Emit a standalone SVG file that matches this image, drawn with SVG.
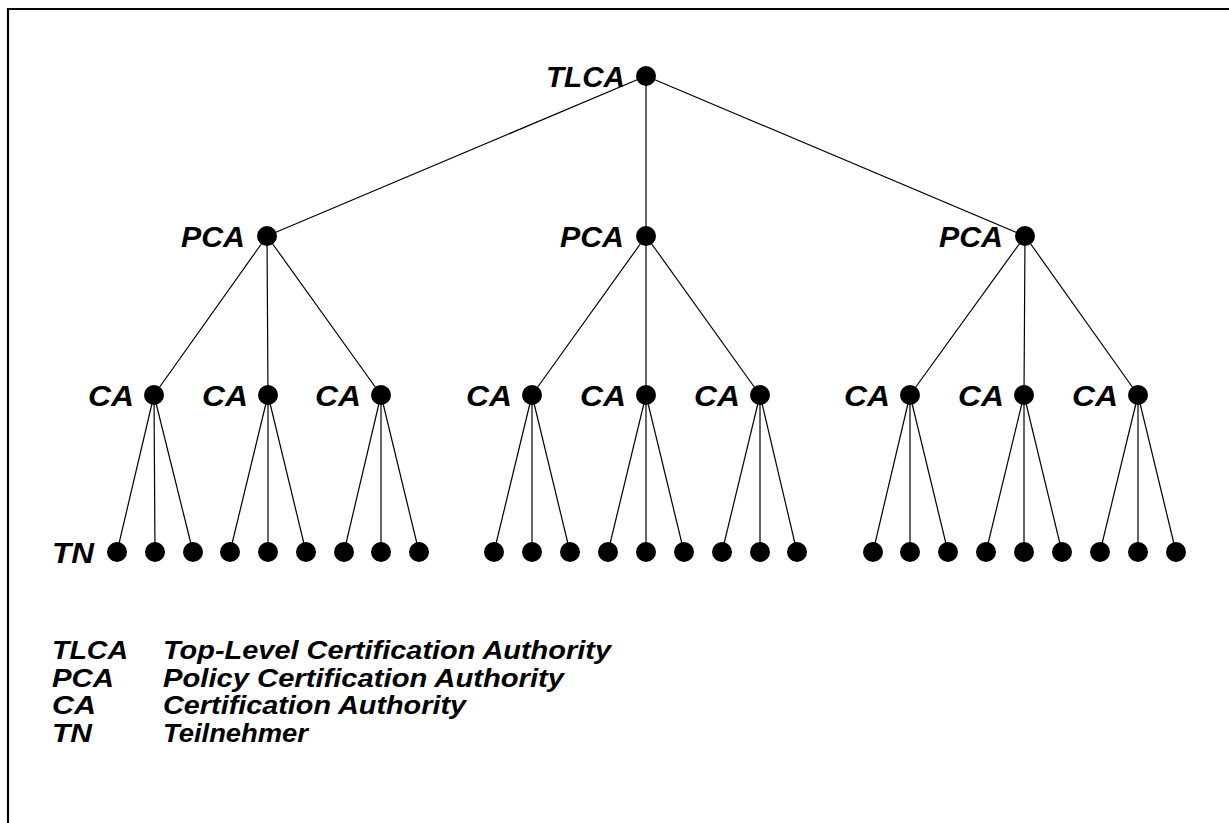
<svg xmlns="http://www.w3.org/2000/svg" width="1229" height="823" viewBox="0 0 1229 823">
<style>
.lbl{font-family:"Liberation Sans",Arial,sans-serif;font-weight:bold;font-style:italic;font-size:29px;fill:#000}
.leg{font-family:"Liberation Sans",Arial,sans-serif;font-weight:bold;font-style:italic;font-size:25px;fill:#000}
.dot{fill:#000}
.edge{stroke:#000;stroke-width:1.2;fill:none}
</style>
<rect x="0" y="0" width="1229" height="823" fill="#fff"/>
<path d="M8 823 V9 H1229" stroke="#000" stroke-width="2.2" fill="none"/>
<g id="connectors" class="edge">
<line x1="646" y1="76" x2="267" y2="236"/>
<line x1="646" y1="76" x2="646" y2="236"/>
<line x1="646" y1="76" x2="1025" y2="236"/>
<line x1="267" y1="236" x2="154" y2="395"/>
<line x1="267" y1="236" x2="268" y2="395"/>
<line x1="267" y1="236" x2="381" y2="395"/>
<line x1="646" y1="236" x2="532" y2="395"/>
<line x1="646" y1="236" x2="646" y2="395"/>
<line x1="646" y1="236" x2="760" y2="395"/>
<line x1="1025" y1="236" x2="910" y2="395"/>
<line x1="1025" y1="236" x2="1024" y2="395"/>
<line x1="1025" y1="236" x2="1138" y2="395"/>
<line x1="154" y1="395" x2="117" y2="552"/><line x1="154" y1="395" x2="155" y2="552"/><line x1="154" y1="395" x2="193" y2="552"/>
<line x1="268" y1="395" x2="230" y2="552"/><line x1="268" y1="395" x2="268" y2="552"/><line x1="268" y1="395" x2="306" y2="552"/>
<line x1="381" y1="395" x2="344" y2="552"/><line x1="381" y1="395" x2="381" y2="552"/><line x1="381" y1="395" x2="419" y2="552"/>
<line x1="532" y1="395" x2="494" y2="552"/><line x1="532" y1="395" x2="532" y2="552"/><line x1="532" y1="395" x2="570" y2="552"/>
<line x1="646" y1="395" x2="608" y2="552"/><line x1="646" y1="395" x2="646" y2="552"/><line x1="646" y1="395" x2="684" y2="552"/>
<line x1="760" y1="395" x2="722" y2="552"/><line x1="760" y1="395" x2="760" y2="552"/><line x1="760" y1="395" x2="797" y2="552"/>
<line x1="910" y1="395" x2="873" y2="552"/><line x1="910" y1="395" x2="910" y2="552"/><line x1="910" y1="395" x2="948" y2="552"/>
<line x1="1024" y1="395" x2="986" y2="552"/><line x1="1024" y1="395" x2="1024" y2="552"/><line x1="1024" y1="395" x2="1062" y2="552"/>
<line x1="1138" y1="395" x2="1100" y2="552"/><line x1="1138" y1="395" x2="1138" y2="552"/><line x1="1138" y1="395" x2="1176" y2="552"/>
</g>
<g id="tlca"><circle class="dot" cx="646" cy="76" r="10"/><text class="lbl" x="625" y="87" text-anchor="end" textLength="79" lengthAdjust="spacingAndGlyphs">TLCA</text></g>
<g id="pca1"><circle class="dot" cx="267" cy="236" r="10"/><text class="lbl" x="245" y="247" text-anchor="end" textLength="64" lengthAdjust="spacingAndGlyphs">PCA</text></g>
<g id="pca2"><circle class="dot" cx="646" cy="236" r="10"/><text class="lbl" x="624" y="247" text-anchor="end" textLength="64" lengthAdjust="spacingAndGlyphs">PCA</text></g>
<g id="pca3"><circle class="dot" cx="1025" cy="236" r="10"/><text class="lbl" x="1003" y="247" text-anchor="end" textLength="64" lengthAdjust="spacingAndGlyphs">PCA</text></g>
<g id="ca1"><circle class="dot" cx="154" cy="395" r="10"/><text class="lbl" x="134" y="406" text-anchor="end" textLength="46" lengthAdjust="spacingAndGlyphs">CA</text></g>
<g id="ca2"><circle class="dot" cx="268" cy="395" r="10"/><text class="lbl" x="248" y="406" text-anchor="end" textLength="46" lengthAdjust="spacingAndGlyphs">CA</text></g>
<g id="ca3"><circle class="dot" cx="381" cy="395" r="10"/><text class="lbl" x="361" y="406" text-anchor="end" textLength="46" lengthAdjust="spacingAndGlyphs">CA</text></g>
<g id="ca4"><circle class="dot" cx="532" cy="395" r="10"/><text class="lbl" x="512" y="406" text-anchor="end" textLength="46" lengthAdjust="spacingAndGlyphs">CA</text></g>
<g id="ca5"><circle class="dot" cx="646" cy="395" r="10"/><text class="lbl" x="626" y="406" text-anchor="end" textLength="46" lengthAdjust="spacingAndGlyphs">CA</text></g>
<g id="ca6"><circle class="dot" cx="760" cy="395" r="10"/><text class="lbl" x="740" y="406" text-anchor="end" textLength="46" lengthAdjust="spacingAndGlyphs">CA</text></g>
<g id="ca7"><circle class="dot" cx="910" cy="395" r="10"/><text class="lbl" x="890" y="406" text-anchor="end" textLength="46" lengthAdjust="spacingAndGlyphs">CA</text></g>
<g id="ca8"><circle class="dot" cx="1024" cy="395" r="10"/><text class="lbl" x="1004" y="406" text-anchor="end" textLength="46" lengthAdjust="spacingAndGlyphs">CA</text></g>
<g id="ca9"><circle class="dot" cx="1138" cy="395" r="10"/><text class="lbl" x="1118" y="406" text-anchor="end" textLength="46" lengthAdjust="spacingAndGlyphs">CA</text></g>
<g id="tn-label"><text class="lbl" x="52" y="563" textLength="42" lengthAdjust="spacingAndGlyphs">TN</text></g>
<g id="tn1"><circle class="dot" cx="117" cy="552" r="10"/></g>
<g id="tn2"><circle class="dot" cx="155" cy="552" r="10"/></g>
<g id="tn3"><circle class="dot" cx="193" cy="552" r="10"/></g>
<g id="tn4"><circle class="dot" cx="230" cy="552" r="10"/></g>
<g id="tn5"><circle class="dot" cx="268" cy="552" r="10"/></g>
<g id="tn6"><circle class="dot" cx="306" cy="552" r="10"/></g>
<g id="tn7"><circle class="dot" cx="344" cy="552" r="10"/></g>
<g id="tn8"><circle class="dot" cx="381" cy="552" r="10"/></g>
<g id="tn9"><circle class="dot" cx="419" cy="552" r="10"/></g>
<g id="tn10"><circle class="dot" cx="494" cy="552" r="10"/></g>
<g id="tn11"><circle class="dot" cx="532" cy="552" r="10"/></g>
<g id="tn12"><circle class="dot" cx="570" cy="552" r="10"/></g>
<g id="tn13"><circle class="dot" cx="608" cy="552" r="10"/></g>
<g id="tn14"><circle class="dot" cx="646" cy="552" r="10"/></g>
<g id="tn15"><circle class="dot" cx="684" cy="552" r="10"/></g>
<g id="tn16"><circle class="dot" cx="722" cy="552" r="10"/></g>
<g id="tn17"><circle class="dot" cx="760" cy="552" r="10"/></g>
<g id="tn18"><circle class="dot" cx="797" cy="552" r="10"/></g>
<g id="tn19"><circle class="dot" cx="873" cy="552" r="10"/></g>
<g id="tn20"><circle class="dot" cx="910" cy="552" r="10"/></g>
<g id="tn21"><circle class="dot" cx="948" cy="552" r="10"/></g>
<g id="tn22"><circle class="dot" cx="986" cy="552" r="10"/></g>
<g id="tn23"><circle class="dot" cx="1024" cy="552" r="10"/></g>
<g id="tn24"><circle class="dot" cx="1062" cy="552" r="10"/></g>
<g id="tn25"><circle class="dot" cx="1100" cy="552" r="10"/></g>
<g id="tn26"><circle class="dot" cx="1138" cy="552" r="10"/></g>
<g id="tn27"><circle class="dot" cx="1176" cy="552" r="10"/></g>
<g id="legend">
<text class="leg" x="52" y="659" textLength="76" lengthAdjust="spacingAndGlyphs">TLCA</text>
<text class="leg" x="163" y="659" textLength="448" lengthAdjust="spacingAndGlyphs">Top-Level Certification Authority</text>
<text class="leg" x="52" y="687" textLength="62" lengthAdjust="spacingAndGlyphs">PCA</text>
<text class="leg" x="163" y="687" textLength="401" lengthAdjust="spacingAndGlyphs">Policy Certification Authority</text>
<text class="leg" x="52" y="714" textLength="44" lengthAdjust="spacingAndGlyphs">CA</text>
<text class="leg" x="163" y="714" textLength="303" lengthAdjust="spacingAndGlyphs">Certification Authority</text>
<text class="leg" x="52" y="742" textLength="40" lengthAdjust="spacingAndGlyphs">TN</text>
<text class="leg" x="163" y="742" textLength="145" lengthAdjust="spacingAndGlyphs">Teilnehmer</text>
</g>
</svg>
